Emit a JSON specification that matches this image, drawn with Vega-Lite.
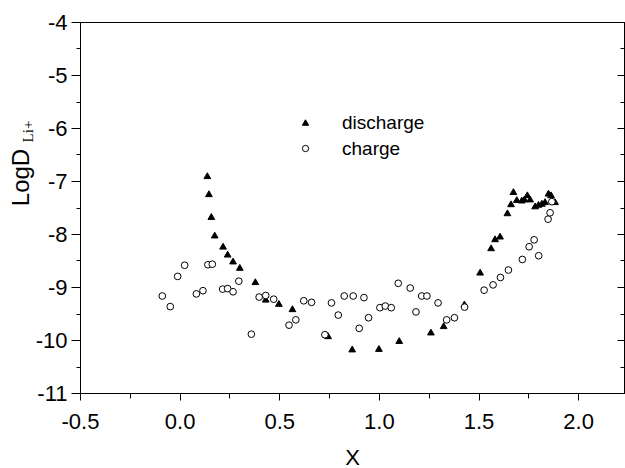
{
  "$schema": "https://vega.github.io/schema/vega-lite/v6.json",
  "width": 544,
  "height": 371,
  "autosize": "none",
  "padding": {"left": 80, "top": 22, "right": 1, "bottom": 75},
  "config": {
    "font": "Liberation Sans",
    "view": {"stroke": "black", "strokeWidth": 1},
    "axis": {"grid": false, "domainColor": "black", "tickColor": "black", "labelColor": "black", "titleColor": "black", "titleFontWeight": "normal", "labelFlush": false, "labelOverlap": false, "domainWidth": 1, "tickWidth": 1},
    "locale": {"number": {"decimal": ".", "thousands": ",", "grouping": [3], "currency": ["$", ""], "minus": "-"}}
  },
  "data": {"values": [
    {"x": 0.139, "y": -6.90, "series": "discharge"},
    {"x": 0.147, "y": -7.24, "series": "discharge"},
    {"x": 0.159, "y": -7.67, "series": "discharge"},
    {"x": 0.176, "y": -8.02, "series": "discharge"},
    {"x": 0.218, "y": -8.23, "series": "discharge"},
    {"x": 0.241, "y": -8.38, "series": "discharge"},
    {"x": 0.268, "y": -8.51, "series": "discharge"},
    {"x": 0.302, "y": -8.63, "series": "discharge"},
    {"x": 0.380, "y": -8.90, "series": "discharge"},
    {"x": 0.432, "y": -9.23, "series": "discharge"},
    {"x": 0.498, "y": -9.31, "series": "discharge"},
    {"x": 0.566, "y": -9.41, "series": "discharge"},
    {"x": 0.745, "y": -9.92, "series": "discharge"},
    {"x": 0.866, "y": -10.17, "series": "discharge"},
    {"x": 1.000, "y": -10.16, "series": "discharge"},
    {"x": 1.102, "y": -10.01, "series": "discharge"},
    {"x": 1.261, "y": -9.85, "series": "discharge"},
    {"x": 1.325, "y": -9.73, "series": "discharge"},
    {"x": 1.429, "y": -9.32, "series": "discharge"},
    {"x": 1.508, "y": -8.72, "series": "discharge"},
    {"x": 1.563, "y": -8.26, "series": "discharge"},
    {"x": 1.583, "y": -8.09, "series": "discharge"},
    {"x": 1.608, "y": -8.04, "series": "discharge"},
    {"x": 1.645, "y": -7.60, "series": "discharge"},
    {"x": 1.663, "y": -7.43, "series": "discharge"},
    {"x": 1.675, "y": -7.20, "series": "discharge"},
    {"x": 1.692, "y": -7.35, "series": "discharge"},
    {"x": 1.717, "y": -7.36, "series": "discharge"},
    {"x": 1.730, "y": -7.34, "series": "discharge"},
    {"x": 1.745, "y": -7.26, "series": "discharge"},
    {"x": 1.759, "y": -7.34, "series": "discharge"},
    {"x": 1.784, "y": -7.47, "series": "discharge"},
    {"x": 1.801, "y": -7.44, "series": "discharge"},
    {"x": 1.818, "y": -7.42, "series": "discharge"},
    {"x": 1.834, "y": -7.39, "series": "discharge"},
    {"x": 1.851, "y": -7.23, "series": "discharge"},
    {"x": 1.864, "y": -7.26, "series": "discharge"},
    {"x": 1.884, "y": -7.39, "series": "discharge"},
    {"x": 0.025, "y": -8.59, "series": "charge"},
    {"x": -0.010, "y": -8.80, "series": "charge"},
    {"x": -0.087, "y": -9.17, "series": "charge"},
    {"x": -0.047, "y": -9.37, "series": "charge"},
    {"x": 0.142, "y": -8.58, "series": "charge"},
    {"x": 0.164, "y": -8.57, "series": "charge"},
    {"x": 0.084, "y": -9.13, "series": "charge"},
    {"x": 0.117, "y": -9.07, "series": "charge"},
    {"x": 0.216, "y": -9.04, "series": "charge"},
    {"x": 0.241, "y": -9.03, "series": "charge"},
    {"x": 0.268, "y": -9.09, "series": "charge"},
    {"x": 0.297, "y": -8.89, "series": "charge"},
    {"x": 0.360, "y": -9.89, "series": "charge"},
    {"x": 0.399, "y": -9.19, "series": "charge"},
    {"x": 0.432, "y": -9.16, "series": "charge"},
    {"x": 0.472, "y": -9.23, "series": "charge"},
    {"x": 0.549, "y": -9.72, "series": "charge"},
    {"x": 0.583, "y": -9.62, "series": "charge"},
    {"x": 0.623, "y": -9.26, "series": "charge"},
    {"x": 0.662, "y": -9.29, "series": "charge"},
    {"x": 0.729, "y": -9.90, "series": "charge"},
    {"x": 0.762, "y": -9.30, "series": "charge"},
    {"x": 0.796, "y": -9.53, "series": "charge"},
    {"x": 0.826, "y": -9.17, "series": "charge"},
    {"x": 0.871, "y": -9.17, "series": "charge"},
    {"x": 0.925, "y": -9.20, "series": "charge"},
    {"x": 0.901, "y": -9.78, "series": "charge"},
    {"x": 0.948, "y": -9.58, "series": "charge"},
    {"x": 1.005, "y": -9.39, "series": "charge"},
    {"x": 1.032, "y": -9.36, "series": "charge"},
    {"x": 1.062, "y": -9.39, "series": "charge"},
    {"x": 1.097, "y": -8.93, "series": "charge"},
    {"x": 1.157, "y": -9.02, "series": "charge"},
    {"x": 1.215, "y": -9.17, "series": "charge"},
    {"x": 1.241, "y": -9.17, "series": "charge"},
    {"x": 1.297, "y": -9.30, "series": "charge"},
    {"x": 1.186, "y": -9.47, "series": "charge"},
    {"x": 1.340, "y": -9.62, "series": "charge"},
    {"x": 1.379, "y": -9.58, "series": "charge"},
    {"x": 1.430, "y": -9.38, "series": "charge"},
    {"x": 1.528, "y": -9.06, "series": "charge"},
    {"x": 1.573, "y": -8.96, "series": "charge"},
    {"x": 1.610, "y": -8.82, "series": "charge"},
    {"x": 1.650, "y": -8.68, "series": "charge"},
    {"x": 1.720, "y": -8.48, "series": "charge"},
    {"x": 1.754, "y": -8.24, "series": "charge"},
    {"x": 1.779, "y": -8.11, "series": "charge"},
    {"x": 1.802, "y": -8.41, "series": "charge"},
    {"x": 1.849, "y": -7.72, "series": "charge"},
    {"x": 1.859, "y": -7.60, "series": "charge"},
    {"x": 1.868, "y": -7.39, "series": "charge"}
  ]},
  "resolve": {"axis": {"x": "independent", "y": "independent"}},
  "layer": [
    {
      "mark": {"type": "point", "filled": true, "stroke": "black", "strokeWidth": 1, "opacity": 1},
      "encoding": {
        "x": {"field": "x", "type": "quantitative", "scale": {"domain": [-0.5, 2.23], "nice": false, "zero": false},
          "axis": {"orient": "bottom", "values": [-0.5, 0, 0.5, 1, 1.5, 2], "format": ".1f", "tickSize": 7, "labelFontSize": 22, "labelPadding": 28, "labelBaseline": "alphabetic", "title": "X", "titleFontSize": 22, "titleX": 272, "titleY": 71, "titleBaseline": "alphabetic", "titleAlign": "center"}},
        "y": {"field": "y", "type": "quantitative", "scale": {"domain": [-11, -4], "nice": false, "zero": false},
          "axis": {"orient": "left", "values": [-11, -10, -9, -8, -7, -6, -5, -4], "format": "d", "tickSize": 9, "labelFontSize": 22, "labelPadding": 4, "title": "LogD", "titleFontSize": 24, "titleAngle": -90, "titleX": -52, "titleY": 155, "titleBaseline": "alphabetic", "titleAlign": "center"}},
        "shape": {"field": "series", "type": "nominal", "scale": {"domain": ["discharge", "charge"], "range": ["triangle-up", "circle"]},
          "legend": {"orient": "none", "legendX": 216, "legendY": 91, "title": null, "padding": 0, "labelFont": "Liberation Sans", "labelFontSize": 19, "labelColor": "black", "labelOffset": 27, "symbolSize": 40, "symbolStrokeWidth": 1, "rowPadding": 6,
            "encode": {"symbols": {"update": {"stroke": {"value": "black"}, "strokeWidth": {"value": 1}}}}}},
        "fill": {"field": "series", "type": "nominal", "scale": {"domain": ["discharge", "charge"], "range": ["black", "white"]},
          "legend": {"orient": "none", "legendX": 216, "legendY": 91, "title": null, "padding": 0, "labelFont": "Liberation Sans", "labelFontSize": 19, "labelColor": "black", "labelOffset": 27, "symbolSize": 40, "symbolStrokeWidth": 1, "rowPadding": 6,
            "encode": {"symbols": {"update": {"stroke": {"value": "black"}, "strokeWidth": {"value": 1}}}}}},
        "size": {"value": 45}
      }
    },
    {
      "mark": {"type": "point", "opacity": 0},
      "encoding": {
        "x": {"field": "x", "type": "quantitative", "scale": {"domain": [-0.5, 2.23], "nice": false, "zero": false},
          "axis": {"orient": "bottom", "values": [-0.25, 0.25, 0.75, 1.25, 1.75], "tickSize": 5, "labels": false, "title": null}},
        "y": {"field": "y", "type": "quantitative", "scale": {"domain": [-11, -4], "nice": false, "zero": false},
          "axis": {"orient": "left", "values": [-10.5, -9.5, -8.5, -7.5, -6.5, -5.5, -4.5], "tickSize": 4, "labels": false, "title": "Li+", "titleFont": "Liberation Serif", "titleFontSize": 15, "titleAngle": -90, "titleX": -48, "titleY": 109, "titleBaseline": "alphabetic", "titleAlign": "center"}}
      }
    },
    {
      "mark": {"type": "point", "opacity": 0},
      "encoding": {
        "x": {"field": "x", "type": "quantitative", "scale": {"domain": [-0.5, 2.23], "nice": false, "zero": false}, "axis": null},
        "y": {"field": "y", "type": "quantitative", "scale": {"domain": [-11, -4], "nice": false, "zero": false},
          "axis": {"orient": "right", "values": [-11, -10, -9, -8, -7, -6, -5, -4], "tickSize": -7, "labels": false, "title": null}}
      }
    },
    {
      "mark": {"type": "point", "opacity": 0},
      "encoding": {
        "x": {"field": "x", "type": "quantitative", "scale": {"domain": [-0.5, 2.23], "nice": false, "zero": false}, "axis": null},
        "y": {"field": "y", "type": "quantitative", "scale": {"domain": [-11, -4], "nice": false, "zero": false},
          "axis": {"orient": "right", "values": [-10.5, -9.5, -8.5, -7.5, -6.5, -5.5, -4.5], "tickSize": -4, "labels": false, "title": null}}
      }
    }
  ]
}
